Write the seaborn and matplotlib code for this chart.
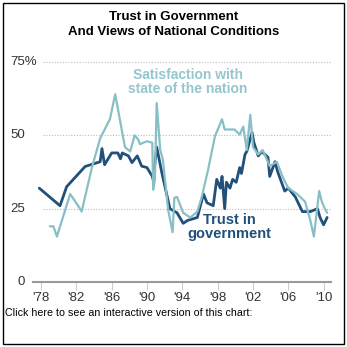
import matplotlib
matplotlib.use("Agg")
import matplotlib.pyplot as plt
import seaborn as sns
import pandas as pd
from matplotlib.patches import Rectangle

# ---- data ----
trust_years = [1977.8, 1980.15, 1980.9, 1983.0, 1984.7, 1984.9, 1985.2, 1986.0, 1986.7, 1987.0,
               1987.2, 1987.9, 1988.3, 1988.9, 1989.4, 1990.0, 1990.6, 1990.7, 1991.1, 1991.7,
               1992.6, 1993.4, 1994.1, 1994.6, 1995.7, 1996.4, 1996.8, 1997.5, 1997.9, 1998.3,
               1998.5, 1998.8, 1999.0, 1999.4, 1999.7, 2000.1, 2000.5, 2000.7, 2001.1, 2001.3,
               2001.9, 2002.1, 2002.6, 2003.0, 2003.7, 2003.9, 2004.5, 2004.8, 2005.6, 2006.0,
               2006.8, 2007.6, 2008.5, 2009.3, 2009.6, 2010.0, 2010.4]
trust_values = [32, 26, 32.5, 39.4, 41, 45.5, 40, 44, 44, 42,
                44, 43, 40.7, 43, 39.5, 39, 36, 35, 46, 37,
                25, 23.6, 20, 21, 22, 30, 27, 26, 35, 32,
                36, 25, 34, 32, 35, 34, 39, 37, 43.5, 44.5,
                51, 47.6, 43, 44.5, 42.5, 36, 41, 37.6, 31, 32,
                29, 24, 24, 25, 22, 19.5, 22]

sat_years = [1979.0, 1979.4, 1979.8, 1981.3, 1982.2, 1982.6, 1983.8, 1984.7, 1985.8, 1986.4,
             1987.5, 1988.1, 1988.6, 1989.0, 1989.2, 1990.0, 1990.6, 1990.7, 1990.9, 1991.1,
             1991.5, 1991.8, 1992.4, 1992.9, 1993.1, 1993.4, 1994.1, 1994.9, 1995.7, 1996.2,
             1996.9, 1997.7, 1998.5, 1998.8, 1999.9, 2000.5, 2000.9, 2001.3, 2001.7, 2002.0,
             2002.6, 2003.1, 2003.9, 2004.7, 2005.4, 2006.0, 2007.0, 2007.9, 2008.5, 2008.9,
             2009.5, 2009.8, 2010.1, 2010.4]
sat_values = [19, 19, 15.5, 30, 26, 24, 39.5, 49, 55.5, 64,
              46, 44.5, 50, 48.6, 47, 48, 47.5, 31.5, 35, 61,
              45, 41.7, 24.5, 17, 28.7, 29, 23.6, 22, 24, 29,
              38, 49.7, 55.5, 52, 52, 50.3, 53, 45, 57, 46,
              43.5, 45, 39.5, 41, 35.6, 32, 30, 27.4, 21, 15.5,
              31, 27.4, 25.3, 23.6]

x_ticks = [1978, 1982, 1986, 1990, 1994, 1998, 2002, 2006, 2010]
x_labels = ["'78", "'82", "'86", "'90", "'94", "'98", "'02", "'06", "'10"]
y_ticks = [0, 25, 50, 75]
y_labels = ["0", "25", "50", "75%"]

trust_df = pd.DataFrame({"year": trust_years, "value": trust_values})
sat_df = pd.DataFrame({"year": sat_years, "value": sat_values})

sns.set_theme(style="white")
plt.rcParams["font.family"] = ["Liberation Sans", "DejaVu Sans"]

W = H = 347
fig = plt.figure(figsize=(3.47, 3.47), dpi=100)
ax = fig.add_axes([33 / W, 1 - 282 / H, 298 / W, 80 * 2.933 / H])

BLUE = "#21507a"
TEAL = "#88bfc6"
TEAL_TXT = "#95c6cd"

sns.lineplot(data=sat_df, x="year", y="value", sort=False, color=TEAL, lw=1.6, ax=ax, zorder=3)
sns.lineplot(data=trust_df, x="year", y="value", sort=False, color=BLUE, lw=2.0, ax=ax, zorder=2)

ax.set_xlim(1977.09, 2010.84)
ax.set_ylim(0, 80)
for s in ["top", "right", "left"]:
    ax.spines[s].set_visible(False)
ax.spines["bottom"].set_color("#999999")
ax.spines["bottom"].set_linewidth(1.5)
ax.set_xlabel("")
ax.set_ylabel("")

# gridlines
for v in y_ticks[1:]:
    ax.axhline(v, xmin=(43 - 33) / 298, xmax=1, color="#bbbbbb", lw=0.8, ls=(0, (1, 1.5)), zorder=1)

ax.set_xticks(x_ticks)
ax.set_xticklabels(x_labels, fontsize=9.5, color="#333333")
ax.tick_params(axis="x", length=6, width=0.8, color="#cccccc", pad=1.5, direction="out", bottom=True)
ax.set_yticks([])

# y labels
ytr = ax.get_yaxis_transform()
for v, lab in zip(y_ticks, y_labels):
    xr = (37 - 33) / 298 if lab.endswith("%") else (25 - 33) / 298
    ax.text(xr, v, lab, transform=ytr, ha="right", va="center", fontsize=9.5, color="#333333")

# annotations
ax.text(1994.6, 68.2, "Satisfaction with\nstate of the nation", ha="center", va="center",
        fontsize=10, fontweight="bold", color=TEAL_TXT, linespacing=1.0)
ax.text(1999.3, 18.6, "Trust in\ngovernment", ha="center", va="center",
        fontsize=10.5, fontweight="bold", color=BLUE, linespacing=1.0)

# title
fig.text(174 / W, 1 - 17 / H, "Trust in Government", ha="center", va="center",
         fontsize=9.5, fontweight="bold", color="black")
fig.text(174 / W, 1 - 32 / H, "And Views of National Conditions", ha="center", va="center",
         fontsize=9.5, fontweight="bold", color="black")

fig.text(5 / W, 1 - 313 / H, "Click here to see an interactive version of this chart:",
         ha="left", va="center", fontsize=7.7, color="black")

fig.patches.append(Rectangle((3 / W, 3 / H), 341 / W, 341 / H, transform=fig.transFigure,
                             fill=False, edgecolor="black", lw=1.0))

fig.savefig("out.png", dpi=100)
